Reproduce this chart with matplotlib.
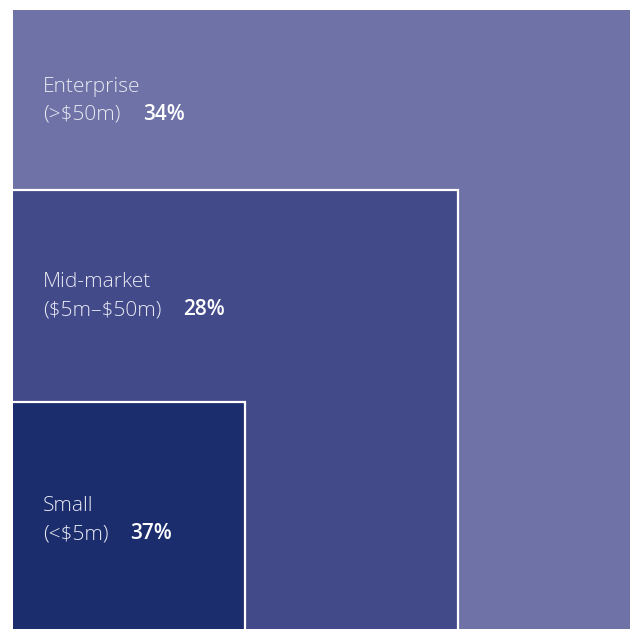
import matplotlib
matplotlib.use("Agg")
import matplotlib.pyplot as plt
from matplotlib.patches import Rectangle

plt.rcParams["text.parse_math"] = False

# Company size segments, outermost first
segments = ["Enterprise", "Mid-market", "Small"]
ranges = ["(>$50m)", "($5m\u2013$50m)", "(<$5m)"]
shares = [34, 28, 37]

# Layout: width/height of each nested block as a fraction of the outer one
w_frac = [1.0, 0.721, 0.376]
h_frac = [1.0, 0.709, 0.367]
colors = ["#6E72A6", "#424A8A", "#1C2D6E"]

W, H = 630, 629
fig = plt.figure(figsize=(W / 100, H / 100), dpi=100)
ax = fig.add_axes([0, 0, 1, 1])
ax.set_xlim(0, W)
ax.set_ylim(H, 0)
ax.axis("off")

x0, bottom = 13, 629
outer_w, outer_h = 617, 619

label_x = 43
label_y = [92, 287, 511]
pct_x = [143, 183, 130]
for i, (name, rng, pct) in enumerate(zip(segments, ranges, shares)):
    w = outer_w * w_frac[i]
    h = outer_h * h_frac[i]
    top = bottom - h
    ax.add_patch(Rectangle((x0, top), w, h, facecolor=colors[i],
                           edgecolor="none", zorder=i))
    if i > 0:
        ax.plot([x0, x0 + w, x0 + w], [top, top, bottom], color="white",
                lw=1.6, zorder=i + 0.5, solid_joinstyle="miter")
    y1 = label_y[i]
    ax.text(label_x, y1, name, color="#E8E9F2", fontsize=15,
            family="Open Sans", fontweight="light", va="baseline", zorder=10)
    ax.text(label_x, y1 + 28, rng, color="#E8E9F2", fontsize=15,
            family="Open Sans", fontweight="light", va="baseline", zorder=10)
    ax.text(pct_x[i], y1 + 28, f"{pct}%", color="white", fontsize=15,
            family="Open Sans", fontweight="semibold", va="baseline", zorder=10)

fig.savefig("out.png", dpi=100, facecolor="white")
